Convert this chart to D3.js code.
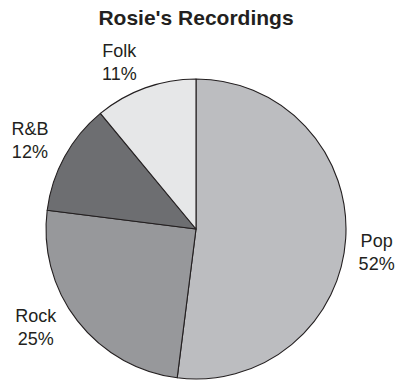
<!DOCTYPE html>
<html>
<head>
<meta charset="utf-8">
<script src="https://cdn.jsdelivr.net/npm/d3@7"></script>
<style>
  body { margin: 0; background: #fff; }
  text { font-family: "Liberation Sans", Arial, Helvetica, sans-serif; fill: #231f20; }
</style>
</head>
<body>
<div id="chart"></div>
<script>
const title = "Rosie's Recordings";
const genres = ['Pop', 'Rock', 'R&B', 'Folk'];
const shares = [52, 25, 12, 11];
const colors = ['#bcbdc0', '#97989b', '#6d6e71', '#e6e7e8'];

const width = 398;
const height = 380;
const cx = 196;
const cy = 229;
const radius = 150;
const labelRadius = 185;

// small hand nudges so the labels sit where the original put them
const nudge = {
  'Pop': [-4, 11],
  'Rock': [-14, -15],
  'R&B': [-4, 0],
  'Folk': [-14, 7]
};

const svg = d3.select('#chart')
  .append('svg')
  .attr('width', width)
  .attr('height', height);

// Title
svg.append('text')
  .attr('x', 196)
  .attr('y', 25)
  .attr('text-anchor', 'middle')
  .attr('font-size', '21px')
  .attr('font-weight', 'bold')
  .text(title);

const data = genres.map(function (g, i) {
  return { genre: g, value: shares[i], color: colors[i] };
});

const pie = d3.pie()
  .value(function (d) { return d.value; })
  .sort(null);

const arc = d3.arc()
  .innerRadius(0)
  .outerRadius(radius);

const labelArc = d3.arc()
  .innerRadius(labelRadius)
  .outerRadius(labelRadius);

const g = svg.append('g')
  .attr('transform', 'translate(' + cx + ',' + cy + ')');

// Slices
g.selectAll('path')
  .data(pie(data))
  .enter()
  .append('path')
  .attr('d', arc)
  .attr('fill', function (d) { return d.data.color; })
  .attr('stroke', '#231f20')
  .attr('stroke-width', 1.1)
  .attr('stroke-linejoin', 'round');

// Labels
const labels = g.selectAll('.label')
  .data(pie(data))
  .enter()
  .append('text')
  .attr('class', 'label')
  .attr('text-anchor', 'middle')
  .attr('font-size', '18px')
  .attr('transform', function (d) {
    const c = labelArc.centroid(d);
    const n = nudge[d.data.genre];
    return 'translate(' + (c[0] + n[0]) + ',' + (c[1] + n[1]) + ')';
  });

labels.append('tspan')
  .attr('x', 0)
  .attr('y', -5)
  .text(function (d) { return d.data.genre; });

labels.append('tspan')
  .attr('x', 0)
  .attr('y', 18)
  .text(function (d) { return d.data.value + '%'; });
</script>
</body>
</html>
